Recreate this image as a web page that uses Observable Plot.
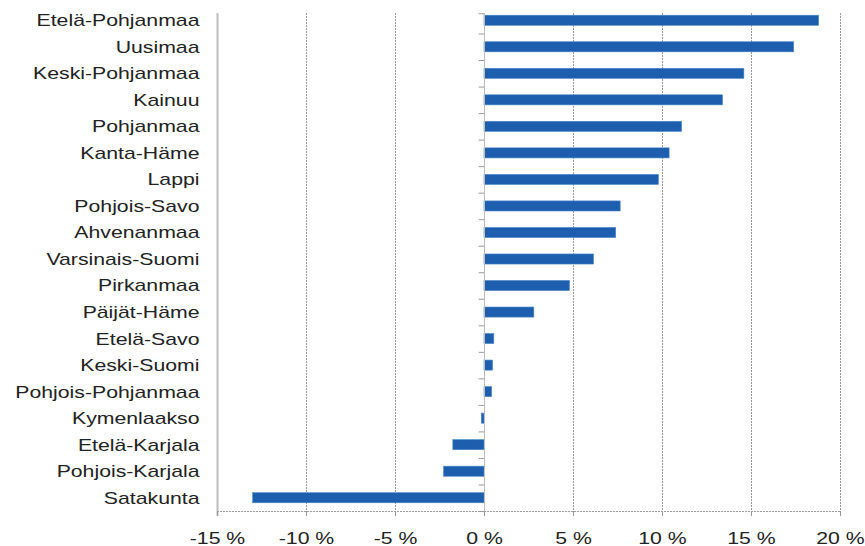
<!DOCTYPE html>
<html>
<head>
<meta charset="utf-8">
<script src="https://cdn.jsdelivr.net/npm/d3@7"></script>
<script src="https://cdn.jsdelivr.net/npm/@observablehq/plot@0.6"></script>
<style>
  html, body { margin: 0; padding: 0; background: #fff; }
  #chart svg { display: block; }
</style>
</head>
<body>
<div id="chart"></div>
<script>
const regions = [
  "Etelä-Pohjanmaa", "Uusimaa", "Keski-Pohjanmaa", "Kainuu", "Pohjanmaa",
  "Kanta-Häme", "Lappi", "Pohjois-Savo", "Ahvenanmaa", "Varsinais-Suomi",
  "Pirkanmaa", "Päijät-Häme", "Etelä-Savo", "Keski-Suomi", "Pohjois-Pohjanmaa",
  "Kymenlaakso", "Etelä-Karjala", "Pohjois-Karjala", "Satakunta"
];
const changes = [
  18.8, 17.4, 14.6, 13.4, 11.1,
  10.4, 9.8, 7.65, 7.4, 6.15,
  4.8, 2.8, 0.55, 0.48, 0.43,
  -0.15, -1.75, -2.27, -13.0
];
const xTicks = [-15, -10, -5, 0, 5, 10, 15, 20];

const data = regions.map((r, i) => ({region: r, value: changes[i]}));
const last = regions[regions.length - 1];

const chart = Plot.plot({
  width: 865,
  height: 546,
  marginLeft: 217,
  marginRight: 25,
  marginTop: 7,
  marginBottom: 35,
  style: {fontFamily: "'Liberation Sans', Arial, sans-serif", fontSize: "17px", color: "#222", background: "#fff"},
  x: {domain: [-15, 20], ticks: xTicks, label: null},
  y: {domain: regions, paddingInner: 0.62, paddingOuter: 0.31, round: false, label: null},
  marks: [
    Plot.gridX(xTicks.filter(d => d !== -15 && d !== 0), {stroke: "#9a9a9a", strokeOpacity: 1, strokeDasharray: "2,1", insetTop: 6}),
    Plot.ruleX([-15], {stroke: "#bdbdbd", strokeWidth: 2, insetTop: 6, insetBottom: -5}),
    Plot.ruleY([last], {y: d => d, x1: -15, x2: 20, dy: 13.25, stroke: "#9a9a9a", strokeDasharray: "2,1"}),
    Plot.barX(data, {x: "value", y: "region", fill: "#1d5fae", stroke: "#4a86c8", strokeWidth: 0.6}),
    Plot.ruleX([0], {stroke: "#bdbdbd", insetTop: 6}),
    Plot.ruleY(regions, {y: d => d, x1: -0.3, x2: 0, dy: 13.25, stroke: "#9a9a9a"}),
    Plot.ruleY([regions[0]], {y: d => d, x1: -0.3, x2: 0, dy: -7, stroke: "#9a9a9a"}),
    Plot.axisX(xTicks, {tickSize: 5, tickPadding: 15, stroke: "#9a9a9a", tickFormat: d => `${d} %`, fill: "#222", label: null}),
    Plot.axisY({tickSize: 0, tickPadding: 18, fill: "#222", label: null})
  ]
});

document.getElementById("chart").appendChild(chart);

// stretch tick label glyphs horizontally, as in the reference
chart.querySelectorAll('[aria-label="y-axis tick label"] text, [aria-label="x-axis tick label"] text').forEach(t => {
  const tr = t.getAttribute("transform") || "";
  t.setAttribute("transform", tr + " scale(1.25,1)");
});
</script>
</body>
</html>
